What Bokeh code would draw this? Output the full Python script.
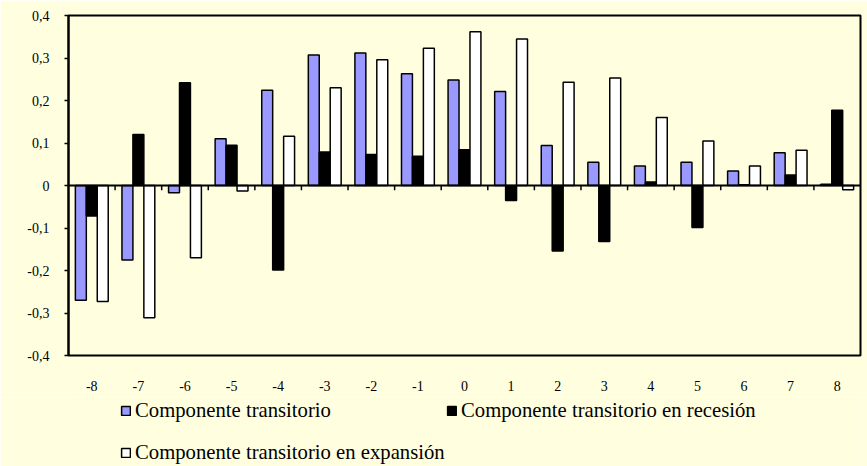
from bokeh.plotting import figure
from bokeh.layouts import column
from bokeh.models import (Range1d, FactorRange, Span, Legend, LegendItem,
                          FixedTicker, CustomJSTickFormatter, ColumnDataSource)
from bokeh.transform import dodge
from bokeh.embed import file_html
from bokeh.resources import INLINE

categories = ["-8", "-7", "-6", "-5", "-4", "-3", "-2", "-1", "0",
              "1", "2", "3", "4", "5", "6", "7", "8"]
transitorio = [-0.270, -0.175, -0.017, 0.110, 0.224, 0.307, 0.312, 0.263, 0.248,
               0.221, 0.094, 0.055, 0.046, 0.055, 0.034, 0.077, 0.003]
recesion = [-0.072, 0.120, 0.242, 0.095, -0.199, 0.079, 0.073, 0.069, 0.084,
            -0.035, -0.154, -0.132, 0.008, -0.099, 0.002, 0.025, 0.177]
expansion = [-0.273, -0.311, -0.170, -0.013, 0.116, 0.230, 0.296, 0.323, 0.362,
             0.345, 0.243, 0.253, 0.160, 0.105, 0.046, 0.083, -0.010]
y_ticks = [-0.4, -0.3, -0.2, -0.1, 0.0, 0.1, 0.2, 0.3, 0.4]
series_names = ["Componente transitorio",
                "Componente transitorio en recesión",
                "Componente transitorio en expansión"]
series_colors = ["#9999FF", "black", "white"]

BG = "#FFFFE0"
FONT = "Liberation Serif"

source = ColumnDataSource(data=dict(cat=categories, t=transitorio,
                                    r=recesion, e=expansion))

p = figure(width=867, height=397, output_backend="svg", toolbar_location=None,
           x_range=FactorRange(factors=categories, range_padding=0),
           y_range=Range1d(-0.4, 0.4),
           min_border_left=68, min_border_right=7, min_border_top=15,
           min_border_bottom=42)
p.background_fill_color = BG
p.border_fill_color = BG
p.outline_line_color = "black"
p.outline_line_width = 2
p.xgrid.visible = False
p.ygrid.visible = False

bw = 0.235
p.vbar(x=dodge("cat", -bw, range=p.x_range), top="t", bottom=0, width=bw,
       source=source, fill_color=series_colors[0], line_color="black", line_width=1.5)
p.vbar(x=dodge("cat", 0, range=p.x_range), top="r", bottom=0, width=bw,
       source=source, fill_color=series_colors[1], line_color="black", line_width=1.5)
p.vbar(x=dodge("cat", bw, range=p.x_range), top="e", bottom=0, width=bw,
       source=source, fill_color=series_colors[2], line_color="black", line_width=1.5)

# zero axis line with tick marks between categories
p.add_layout(Span(location=0, dimension="width", line_color="black", line_width=2))
bounds = list(range(1, len(categories)))
p.segment(x0=bounds, x1=bounds, y0=[0] * len(bounds), y1=[-0.011] * len(bounds),
          line_color="black", line_width=1.5)

# x axis (labels only, at the bottom)
xa = p.xaxis[0]
xa.axis_line_color = None
xa.major_tick_line_color = None
xa.minor_tick_line_color = None
xa.major_tick_out = 0
xa.major_tick_in = 0
xa.major_label_standoff = 25
xa.major_label_text_font = FONT
xa.major_label_text_font_size = "14px"
xa.major_label_text_color = "black"

ya = p.yaxis[0]
ya.ticker = FixedTicker(ticks=y_ticks)
ya.formatter = CustomJSTickFormatter(
    code="if (Math.abs(tick) < 1e-9) { return '0'; } return tick.toFixed(1).replace('.', ',');")
ya.axis_line_color = "black"
ya.axis_line_width = 2
ya.major_tick_in = 0
ya.major_tick_out = 4
ya.major_tick_line_width = 1.5
ya.minor_tick_line_color = None
ya.major_label_standoff = 15
ya.major_label_text_font = FONT
ya.major_label_text_font_size = "14px"
ya.major_label_text_color = "black"

# legend strip below the chart
lg = figure(width=867, height=69, output_backend="svg", toolbar_location=None,
            x_range=Range1d(0, 1), y_range=Range1d(0, 1),
            min_border_left=0, min_border_right=0, min_border_top=0,
            min_border_bottom=0)
lg.axis.visible = False
lg.grid.visible = False
lg.outline_line_color = None
lg.background_fill_color = BG
lg.border_fill_color = BG

# proxy glyphs (no visible extent) used only for legend swatches
swatches = [lg.vbar(x=[float("nan")], top=[float("nan")], bottom=[float("nan")],
                    width=0.1, fill_color=c, line_color="black", line_width=1.5)
            for c in series_colors]


def make_legend(idx_list, loc):
    leg = Legend(items=[LegendItem(label=series_names[i], renderers=[swatches[i]])
                        for i in idx_list],
                 location=loc, orientation="vertical",
                 background_fill_alpha=0, border_line_color=None,
                 padding=0, margin=0, spacing=18,
                 glyph_width=11, glyph_height=11, label_standoff=4,
                 label_height=24,
                 label_text_font=FONT, label_text_font_size="20.7px",
                 label_text_color="black")
    lg.add_layout(leg)


make_legend([0, 2], (52, 2))
make_legend([1], (378, 44))

open("out.html", "w").write(file_html(column(p, lg, spacing=0), INLINE))
